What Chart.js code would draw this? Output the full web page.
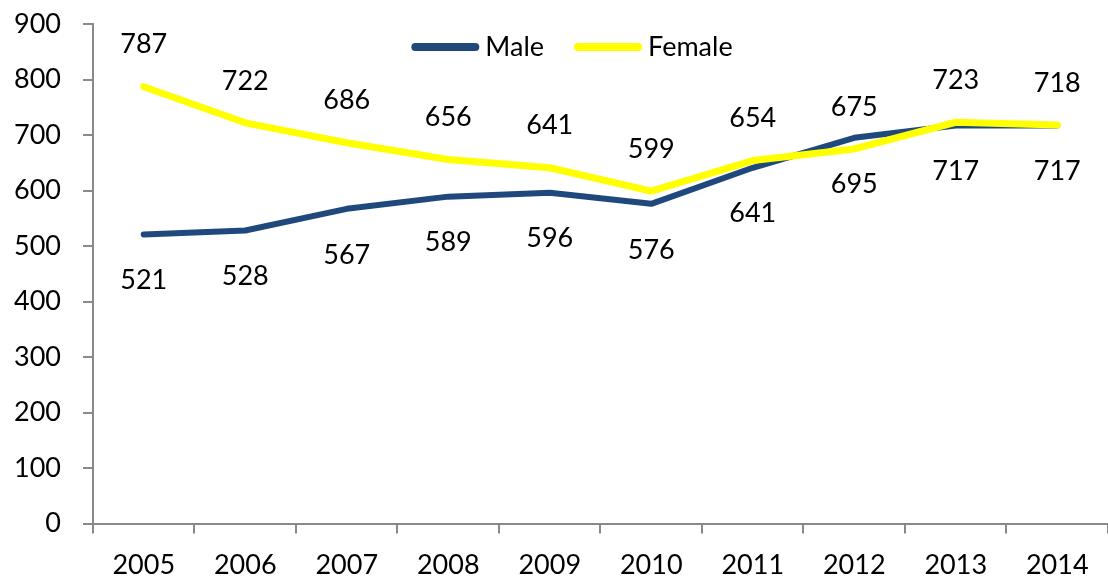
<!DOCTYPE html>
<html>
<head>
<meta charset="utf-8">
<script src="https://cdn.jsdelivr.net/npm/chart.js@4/dist/chart.umd.min.js"></script>
<style>
html,body{margin:0;padding:0;background:#fff;}
#wrap{width:1108px;height:582px;position:relative;}
</style>
</head>
<body>
<div id="wrap"><canvas id="c"></canvas></div>
<script>
const years = ['2005','2006','2007','2008','2009','2010','2011','2012','2013','2014'];
const male = [521,528,567,589,596,576,641,695,717,717];
const female = [787,722,686,656,641,599,654,675,723,718];
const seriesNames = ['Male','Female'];
const yTicks = [0,100,200,300,400,500,600,700,800,900];

const FONT = 'Lato, "Noto Sans", sans-serif';
const FS = 27;
const MALE_COLOR = '#1F497D';
const FEMALE_COLOR = '#FFFF00';

const labelPlugin = {
  id: 'valueLabels',
  afterDatasetsDraw(chart) {
    const ctx = chart.ctx;
    ctx.save();
    ctx.font = FS + 'px ' + FONT;
    ctx.fillStyle = '#000';
    ctx.textAlign = 'center';
    ctx.textBaseline = 'middle';
    chart.data.datasets.forEach((ds, i) => {
      const meta = chart.getDatasetMeta(i);
      meta.data.forEach((pt, j) => {
        const off = ds.labelPos === 'above' ? -42 : 46;
        ctx.fillText(String(ds.data[j]), pt.x, pt.y + off);
      });
    });
    // custom legend inside plot area
    const items = chart.data.datasets.map(d => ({text: d.label, color: d.borderColor}));
    const lineW = 68, gap = 6, itemGap = 30;
    const widths = items.map(it => lineW + gap + ctx.measureText(it.text).width);
    const total = widths.reduce((a,b)=>a+b,0) + itemGap*(items.length-1);
    let x = 572 - total/2;
    const y = 47;
    ctx.textAlign = 'left';
    items.forEach((it, k) => {
      ctx.beginPath();
      ctx.lineCap = 'round';
      ctx.lineWidth = 8;
      ctx.strokeStyle = it.color;
      ctx.moveTo(x + 4, y);
      ctx.lineTo(x + lineW - 4, y);
      ctx.stroke();
      ctx.fillStyle = '#000';
      ctx.fillText(it.text, x + lineW + gap, y);
      x += widths[k] + itemGap;
    });
    ctx.restore();
  }
};

new Chart(document.getElementById('c'), {
  type: 'line',
  data: {
    labels: years,
    datasets: [
      {label: seriesNames[0], data: male, borderColor: MALE_COLOR, backgroundColor: MALE_COLOR,
       borderWidth: 6, pointRadius: 0, tension: 0, order: 2, labelPos: 'below', borderCapStyle: 'round', borderJoinStyle: 'round'},
      {label: seriesNames[1], data: female, borderColor: FEMALE_COLOR, backgroundColor: FEMALE_COLOR,
       borderWidth: 7, pointRadius: 0, tension: 0, order: 1, labelPos: 'above', borderCapStyle: 'round', borderJoinStyle: 'round'}
    ]
  },
  options: {
    responsive: true,
    maintainAspectRatio: false,
    animation: false,
    layout: {padding: {top: 24, right: 0, left: -8, bottom: -14}},
    plugins: {legend: {display: false}, tooltip: {enabled: false}},
    scales: {
      x: {
        offset: true,
        grid: {offset: true, drawOnChartArea: false, drawTicks: true, tickLength: 10, color: '#898989', lineWidth: 2},
        border: {color: '#898989', width: 2},
        ticks: {color: '#000', font: {family: FONT, size: FS}, padding: 15, maxRotation: 0, autoSkip: false},
        afterFit: (s) => { s.paddingLeft = 0; s.paddingRight = 0; }
      },
      y: {
        min: 0, max: 900,
        afterBuildTicks: (axis) => { axis.ticks = yTicks.map(v => ({value: v})); },
        afterFit: (s) => { s.paddingTop = 0; s.paddingBottom = 0; },
        grid: {drawOnChartArea: false, drawTicks: true, tickLength: 10, color: '#898989', lineWidth: 2},
        border: {color: '#898989', width: 2},
        ticks: {color: '#000', font: {family: FONT, size: FS}, padding: 22}
      }
    }
  },
  plugins: [labelPlugin]
});
</script>
</body>
</html>
